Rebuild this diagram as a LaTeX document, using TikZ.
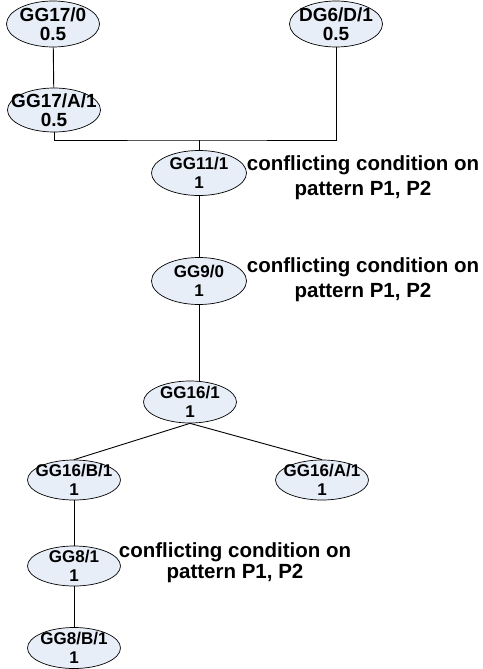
\documentclass[tikz,border=0pt]{standalone}
\usepackage{fontspec}
\setmainfont{Liberation Sans}
\usetikzlibrary{shapes.geometric}
\definecolor{nodefill}{RGB}{232,238,248}
\begin{document}
\begin{tikzpicture}[x=1pt,y=1pt,
  nd/.style={ellipse, draw=black, line width=0.7pt, fill=nodefill,
    minimum width=93pt, minimum height=44pt, inner sep=0pt},
  nlab/.style={align=center, font=\fontsize{17}{19.5}\selectfont\bfseries, inner sep=0pt},
  nlabbig/.style={align=center, font=\fontsize{19}{19.5}\selectfont\bfseries, inner sep=0pt},
  clab/.style={align=center, font=\fontsize{20.5}{25}\selectfont\bfseries, inner sep=0pt},
  clabtight/.style={align=center, font=\fontsize{20.5}{21}\selectfont\bfseries, inner sep=0pt},
  conn/.style={line width=0.9pt, draw=black}]
\useasboundingbox (0,0) rectangle (482,-669);
% nodes
\node[nd, minimum height=46pt, label={[nlabbig]center:GG17/0\\0.5}] (g17) at (53,-24) {};
\node[nd, minimum height=46pt, label={[nlabbig]center:DG6/D/1\\0.5}] (dg6) at (336,-24) {};
\node[nd, label={[nlabbig]center:GG17/A/1\\0.5}] (g17a) at (54,-110) {};
\node[nd, minimum width=95pt, minimum height=45pt, label={[nlab]center:GG11/1\\1}] (g11) at (199,-173) {};
\node[nd, minimum width=95pt, minimum height=47pt, label={[nlab]center:GG9/0\\1}] (g9) at (199,-281) {};
\node[nd, minimum height=42pt, label={[nlab]center:GG16/1\\1}] (g16) at (190,-402) {};
\node[nd, minimum height=40pt, label={[nlab]center:GG16/B/1\\1}] (g16b) at (74,-480) {};
\node[nd, minimum height=40pt, label={[nlab]center:GG16/A/1\\1}] (g16a) at (322,-480) {};
\node[nd, minimum height=40pt, label={[nlab]center:GG8/1\\1}] (g8) at (74,-566) {};
\node[nd, minimum height=41pt, label={[nlab]center:GG8/B/1\\1}] (g8b) at (74,-648) {};
% labels
\node[clab] (c11) at (363,-178) {conflicting condition on\\pattern P1, P2};
\node[clab] (c9) at (363,-280) {conflicting condition on\\pattern P1, P2};
\node[clabtight] (c8) at (235,-563) {conflicting condition on\\pattern P1, P2};
% connectors
\coordinate (j) at (199,-140);
\draw[conn] (g17) -- (g17a);
\draw[conn] (g17a.south) |- (j) -| (dg6.south);
\draw[conn] (j) -- (g11.north);
\draw[conn] (g11) -- (g9);
\draw[conn] (g9.south) -- (g9.south |- g16.north);
\draw[conn] (g16.south) -- (g16b.north);
\draw[conn] (g16.south) -- (g16a.north);
\draw[conn] (g16b) -- (g8);
\draw[conn] (g8) -- (g8b);
\end{tikzpicture}
\end{document}
